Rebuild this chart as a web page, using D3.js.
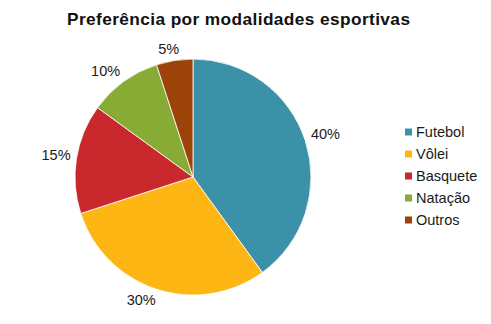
<!DOCTYPE html>
<html><head><meta charset="utf-8">
<script src="https://cdn.jsdelivr.net/npm/d3@7"></script>
<style>body{margin:0;background:#fff;}svg{display:block;}</style>
</head><body>
<svg id="c" width="491" height="324"></svg>
<script>
const categories = ["Futebol", "Vôlei", "Basquete", "Natação", "Outros"];
const values = [40, 30, 15, 10, 5];
const labels = ["40%", "30%", "15%", "10%", "5%"];
const colors = ["#3a91a8", "#fdb614", "#c9282d", "#87ab35", "#9b4309"];
const title = "Preferência por modalidades esportivas";

const svg = d3.select("#c");
const W = 491, H = 324;
const cx = 193, cy = 177, R = 118;
const font = "'Liberation Sans', Arial, sans-serif";

svg.append("rect").attr("width", W).attr("height", H).attr("fill", "#fff");

const t = svg.append("text").attr("x", 67).attr("y", 25)
  .attr("font-family", font).attr("font-weight", "bold").attr("font-size", 17.3)
  .attr("fill", "#111").text(title);
// stretch to the reference title width
const tw = t.node().getComputedTextLength();
t.attr("textLength", 343).attr("lengthAdjust", "spacing");

const pie = d3.pie().sort(null).value(d => d)(values);
const arc = d3.arc().innerRadius(0).outerRadius(R);
const g = svg.append("g").attr("transform", `translate(${cx},${cy})`);
g.selectAll("path").data(pie).join("path")
  .attr("d", arc).attr("fill", (d, i) => colors[i])
  .attr("stroke", "#fff").attr("stroke-width", 0.8);

// outside-end labels
const clamp = v => Math.max(-1, Math.min(1, v));
g.selectAll("text.lbl").data(pie).join("text").attr("class", "lbl")
  .attr("font-family", font).attr("font-size", 14.5).attr("fill", "#1a1a1a")
  .attr("text-anchor", "middle").attr("dominant-baseline", "central")
  .text((d, i) => labels[i])
  .each(function(d) {
    const a = (d.startAngle + d.endAngle) / 2;
    const r = R + 6;
    const w = this.getComputedTextLength(), h = 11;
    const s = Math.sin(a), c = -Math.cos(a);
    const x = r * s + clamp(s * 3) * w / 2;
    const y = r * c + clamp(c * 3) * h / 2;
    d3.select(this).attr("x", x).attr("y", y);
  });

// legend
const lg = svg.append("g").attr("transform", "translate(405,132)");
const row = lg.selectAll("g").data(categories).join("g")
  .attr("transform", (d, i) => `translate(0,${i * 22})`);
row.append("rect").attr("x", 0).attr("y", -3.5).attr("width", 7).attr("height", 7)
  .attr("fill", (d, i) => colors[i]);
row.append("text").attr("x", 11).attr("y", 0).attr("dominant-baseline", "central")
  .attr("font-family", font).attr("font-size", 14.5).attr("fill", "#1a1a1a").text(d => d);
</script>
</body></html>
